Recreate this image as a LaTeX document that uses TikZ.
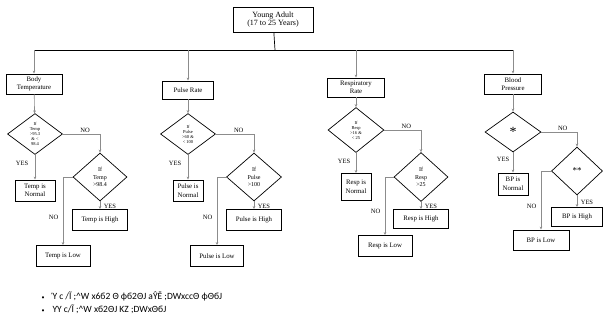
\documentclass[tikz,border=0pt]{standalone}
\usepackage{fontspec}
\setmainfont{Liberation Serif}
\newfontfamily\notefont{Carlito}
\usetikzlibrary{shapes.geometric,arrows.meta}

\begin{document}
\begin{tikzpicture}[x=1pt,y=-1pt,
        >={Stealth[length=3pt,width=2.6pt]},
        bsty/.style={draw,line width=0.9pt,inner sep=1pt,align=center,font=\fontsize{6.8}{8.5}\selectfont},
        dsty/.style={diamond,draw,line width=0.7pt,inner sep=0pt,align=center,font=\fontsize{4.5}{5}\selectfont},
        lsty/.style={font=\fontsize{6.5}{7}\selectfont,inner sep=1.5pt},
        csty/.style={->,draw=black!45,line width=0.6pt},
        nsty/.style={anchor=west,font=\notefont\fontsize{9.5}{11}\selectfont},
        ]

    \useasboundingbox (0,0) rectangle (605,322);

    \node (ya) at (273,19.5) [bsty,minimum width=80pt,minimum height=25pt,font=\fontsize{8}{8.5}\selectfont] {Young Adult\\(17 to 25 Years)};

    % bus
    \coordinate (bus) at (275,50);
    \coordinate (tb) at (34,50);
    \coordinate (pb) at (188,50);
    \coordinate (rb) at (356,50);
    \coordinate (bb) at (513,50);
    \draw[line width=0.7pt] (ya) -- (bus);
    \draw[line width=0.7pt] (tb) -- (bb);

    % body temperature
    \node (bt) at (34,84) [bsty,minimum width=56pt,minimum height=20pt] {Body\\Temperature};
    \node (td1) at (35,134) [dsty,minimum width=55pt,minimum height=41pt] {If\\Temp\\>95.3\\\& <\\98.4};
    \node (td2) at (100,177) [dsty,minimum width=54pt,minimum height=48pt,font=\fontsize{6}{7.5}\selectfont] {If\\Temp\\>98.4};
    \node (tn) at (35,190.5) [bsty,minimum width=40pt,minimum height=21pt] {Temp is\\Normal};
    \node (th) at (100,220) [bsty,minimum width=55pt,minimum height=21pt] {Temp is High};
    \node (tl) at (63,256) [bsty,minimum width=54pt,minimum height=21pt] {Temp is Low};

    \draw[csty] (tb) -- (bt);
    \draw[csty] (bt) -- (td1);
    \draw[csty] (td1.east) -| node[lsty,pos=0.3,above] {NO} (td2.north);
    \draw[csty] (td1.south) -- node[lsty,pos=0.35,left,xshift=-5pt] {YES} (tn.north);
    \draw[csty] (td2.south) -- node[lsty,pos=0.6,right,xshift=2pt] {YES} (th.north);
    \draw[csty] (td2.west) -| node[lsty,pos=0.8,left,xshift=-3pt] {NO} (tl.north);

    % pulse rate
    \node (pr) at (188,90) [bsty,minimum width=51pt,minimum height=18pt] {Pulse Rate};
    \node (pd1) at (188,134) [dsty,minimum width=55pt,minimum height=41pt] {If\\Pulse\\>60 \&\\< 100};
    \node (pd2) at (254,177) [dsty,minimum width=55pt,minimum height=48pt,font=\fontsize{6}{7.5}\selectfont] {If\\Pulse\\>100};
    \node (pn) at (188,190.5) [bsty,minimum width=30pt,minimum height=21pt] {Pulse is\\Normal};
    \node (ph) at (254,220) [bsty,minimum width=55pt,minimum height=21pt] {Pulse is High};
    \node (pl) at (217,256) [bsty,minimum width=53pt,minimum height=21pt] {Pulse is Low};

    \draw[csty] (pb) -- (pr);
    \draw[csty] (pr) -- (pd1);
    \draw[csty] (pd1.east) -| node[lsty,pos=0.3,above] {NO} (pd2.north);
    \draw[csty] (pd1.south) -- node[lsty,pos=0.35,left,xshift=-5pt] {YES} (pn.north);
    \draw[csty] (pd2.south) -- node[lsty,pos=0.6,right,xshift=2pt] {YES} (ph.north);
    \draw[csty] (pd2.west) -| node[lsty,pos=0.8,left,xshift=-3pt] {NO} (pl.north);

    % respiratory rate
    \node (rr) at (356,87.5) [bsty,minimum width=57pt,minimum height=19pt] {Respiratory\\Rate};
    \node (rd1) at (356,130) [dsty,minimum width=56pt,minimum height=45pt] {If\\Resp\\>16 \&\\< 25};
    \node (rd2) at (421,177) [dsty,minimum width=54pt,minimum height=49pt,font=\fontsize{6}{7.5}\selectfont] {If\\Resp\\>25};
    \node (rn) at (356,187) [bsty,minimum width=30pt,minimum height=27pt] {Resp is\\Normal};
    \node (rh) at (421,219) [bsty,minimum width=55pt,minimum height=19pt] {Resp is High};
    \node (rl) at (385,246) [bsty,minimum width=54pt,minimum height=21pt] {Resp is Low};

    \draw[csty] (rb) -- (rr);
    \draw[csty] (rr) -- (rd1);
    \draw[csty] (rd1.east) -| node[lsty,pos=0.3,above] {NO} (rd2.north);
    \draw[csty] (rd1.south) -- node[lsty,pos=0.4,left,xshift=-4pt] {YES} (rn.north);
    \draw[csty] (rd2.south) -- node[lsty,pos=0.6,right,xshift=2pt] {YES} (rh.north);
    \draw[csty] (rd2.west) -| node[lsty,pos=0.8,left,xshift=-3pt] {NO} (rl.north);

    % blood pressure
    \node (bp) at (513,84) [bsty,minimum width=57pt,minimum height=20pt] {Blood\\Pressure};
    \node (bd1) at (513,132) [dsty,minimum width=56pt,minimum height=40pt,font=\fontsize{14}{14}\selectfont] {*};
    \node (bd2) at (577,171) [dsty,minimum width=51pt,minimum height=48pt,font=\fontsize{9}{9}\selectfont] {**};
    \node (bn) at (513,184) [bsty,minimum width=30pt,minimum height=22pt] {BP is\\Normal};
    \node (bh) at (577,217) [bsty,minimum width=51pt,minimum height=19pt] {BP is High};
    \node (bl) at (541,240) [bsty,minimum width=56pt,minimum height=20pt] {BP is Low};

    \draw[csty] (bb) -- (bp);
    \draw[csty] (bp) -- (bd1);
    \draw[csty] (bd1.east) -| node[lsty,pos=0.3,above] {NO} (bd2.north);
    \draw[csty] (bd1.south) -- node[lsty,pos=0.35,left,xshift=-2pt] {YES} (bn.north);
    \draw[csty] (bd2.south) -- node[lsty,pos=0.6,right,xshift=2pt] {YES} (bh.north);
    \draw[csty] (bd2.west) -| node[lsty,pos=0.8,left,xshift=-3pt] {NO} (bl.north);

    % notes
    \node (n1) at (38,296) [nsty] {{\fontsize{6}{6}\selectfont•}\hspace{8pt}Ύ c /Ĩ ;\^{}W x6б2 Θ ϕб2ΘJ aŶĚ ;DWxccΘ ϕΘбJ};
    \node (n2) at (38,309) [nsty] {{\fontsize{6}{6}\selectfont•}\hspace{8pt}ΎΎ c/Ĩ ;\^{}W xб2ΘJ KZ ;DWxΘбJ};

\end{tikzpicture}
\end{document}
